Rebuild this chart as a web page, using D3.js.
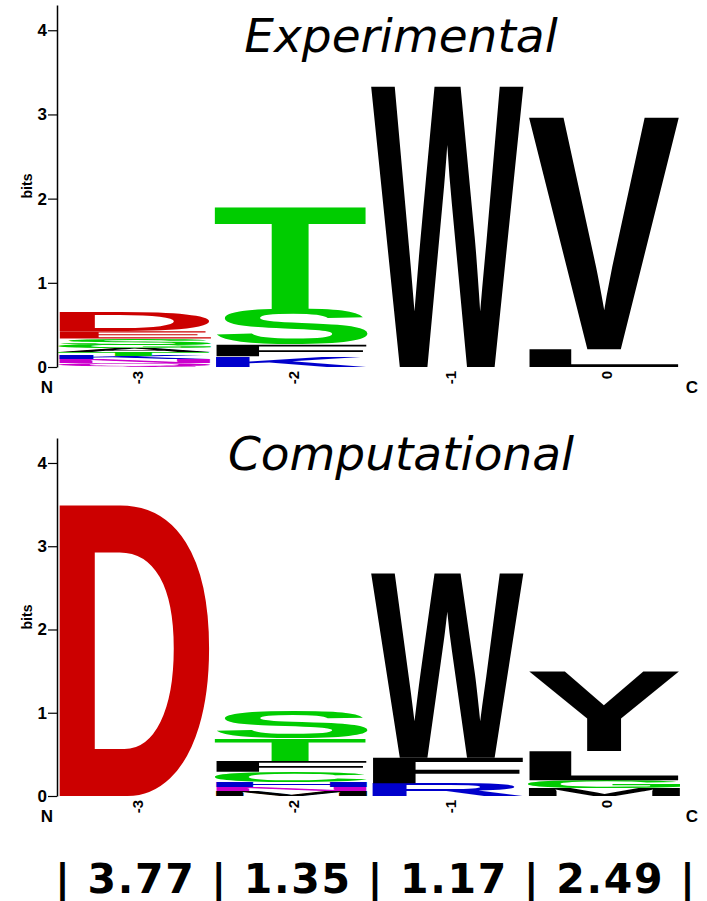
<!DOCTYPE html>
<html>
<head>
<meta charset="utf-8">
<script src="https://cdn.jsdelivr.net/npm/d3@7"></script>
<style>
  body { margin: 0; background: #fff; }
  svg text { font-family: "Liberation Sans", Arial, sans-serif; }
</style>
</head>
<body>
<svg id="logo" width="707" height="901"></svg>
<script>
// ----- data -----
const positions = ["-3", "-2", "-1", "0"];
const yTicks = [0, 1, 2, 3, 4];

// letters of each column, stacked from the bottom up, with their heights in bits
const expLetters = [["Q", "N", "K", "T", "A", "G", "S", "E", "D"], ["K", "F", "S", "T"], ["W"], ["L", "V"]];
const expBits = [[0.045, 0.045, 0.045, 0.04, 0.045, 0.045, 0.075, 0.085, 0.22], [0.125, 0.14, 0.415, 1.23], [3.34], [0.21, 2.76]];

const compLetters = [["D"], ["M", "N", "H", "C", "F", "T", "S"], ["R", "F", "W"], ["M", "G", "L", "Y"]];
const compBits = [[3.5], [0.06, 0.05, 0.06, 0.12, 0.13, 0.27, 0.33], [0.15, 0.31, 2.22], [0.09, 0.10, 0.35, 0.96]];

const totals = ["3.77", "1.35", "1.17", "2.49"];

// ----- colours -----
const letterColor = d3.scaleOrdinal()
    .domain(["D", "E", "S", "T", "G", "C", "K", "R", "H", "N", "Q"])
    .range(["#cc0000", "#cc0000", "#00cc00", "#00cc00", "#00cc00", "#00cc00",
            "#0000cc", "#0000cc", "#0000cc", "#cc00cc", "#cc00cc"])
    .unknown("#000000");

const svg = d3.select("svg#logo");

// glyph ink boxes, so each letter can be stretched to fill its slot
const ctx = document.createElement("canvas").getContext("2d");
ctx.font = "bold 100px 'Liberation Sans'";
const glyphBox = ch => {
    const m = ctx.measureText(ch);
    return { l: m.actualBoundingBoxLeft, r: m.actualBoundingBoxRight,
             a: m.actualBoundingBoxAscent, d: m.actualBoundingBoxDescent };
};

const drawLogo = function(letters, bits, top, bottom, title, titleY) {
    const x = d3.scaleBand().domain(positions).range([57, 681]).paddingInner(0.013);
    const y = d3.scaleLinear().domain([0, 4.3]).range([bottom, top]);

    const g = svg.append("g").attr("class", "logo");

    // stack the letters of every column
    const stacks = [];
    positions.forEach((p, i) => {
        let base = 0;
        letters[i].forEach((ch, j) => {
            stacks.push({ pos: p, ch: ch, y0: base, y1: base + bits[i][j] });
            base += bits[i][j];
        });
    });

    g.selectAll("text.letter")
        .data(stacks)
        .join("text")
        .attr("class", "letter")
        .attr("font-size", 100)
        .attr("font-weight", "bold")
        .attr("fill", d => letterColor(d.ch))
        .attr("transform", d => {
            const b = glyphBox(d.ch);
            const x0 = x(d.pos) + 1, w = x.bandwidth() - 1;
            const yt = y(d.y1), h = y(d.y0) - y(d.y1);
            const sx = w / (b.l + b.r), sy = h / (b.a + b.d);
            return "translate(" + x0 + "," + yt + ") scale(" + sx + "," + sy + ") translate(" + b.l + "," + b.a + ")";
        })
        .text(d => d.ch);

    // axis
    const axis = g.append("g")
        .attr("class", "y axis")
        .attr("transform", "translate(57,0)")
        .call(d3.axisLeft(y).tickValues(yTicks).tickSize(9).tickSizeOuter(0).tickPadding(1).tickFormat(d3.format("d")));
    axis.select(".domain").attr("stroke", "#000").attr("stroke-width", 1.5);
    axis.selectAll(".tick line").attr("stroke", "#000").attr("stroke-width", 1.2);
    axis.selectAll(".tick text")
        .attr("font-family", "'Liberation Sans', Arial, sans-serif")
        .attr("font-size", 17)
        .attr("font-weight", "bold")
        .attr("fill", "#000");

    g.append("text")
        .attr("transform", "translate(27," + (y(2.15)) + ") rotate(-90)")
        .attr("text-anchor", "middle")
        .attr("dominant-baseline", "central")
        .attr("font-size", 14)
        .attr("font-weight", "bold")
        .text("bits");

    // column numbers
    g.selectAll("text.pos")
        .data(positions)
        .join("text")
        .attr("class", "pos")
        .attr("transform", d => "translate(" + (x(d) + x.bandwidth() / 2 + 3) + "," + (bottom + 4) + ") rotate(-90)")
        .attr("text-anchor", "end")
        .attr("dominant-baseline", "central")
        .attr("font-size", 15)
        .attr("font-weight", "bold")
        .text(d => d);

    g.append("text")
        .attr("x", 47).attr("y", bottom + 26)
        .attr("text-anchor", "middle")
        .attr("font-size", 17).attr("font-weight", "bold")
        .text("N");
    g.append("text")
        .attr("x", 692).attr("y", bottom + 26)
        .attr("text-anchor", "middle")
        .attr("font-size", 17).attr("font-weight", "bold")
        .text("C");

    g.append("text")
        .attr("x", 401).attr("y", titleY)
        .attr("text-anchor", "middle")
        .style("font-family", "'DejaVu Sans', sans-serif")
        .style("font-style", "italic")
        .attr("font-size", 47)
        .text(title);
};

drawLogo(expLetters, expBits, 5, 367, "Experimental", 52);
drawLogo(compLetters, compBits, 438, 796, "Computational", 470);

// information content line under the logos
svg.append("text")
    .attr("x", 375).attr("y", 893)
    .attr("text-anchor", "middle")
    .style("font-family", "'DejaVu Sans', sans-serif")
    .attr("font-weight", "bold")
    .attr("font-size", 41)
    .attr("textLength", 640)
    .attr("lengthAdjust", "spacing")
    .text("| " + totals.join(" | ") + " |");
</script>
</body>
</html>
